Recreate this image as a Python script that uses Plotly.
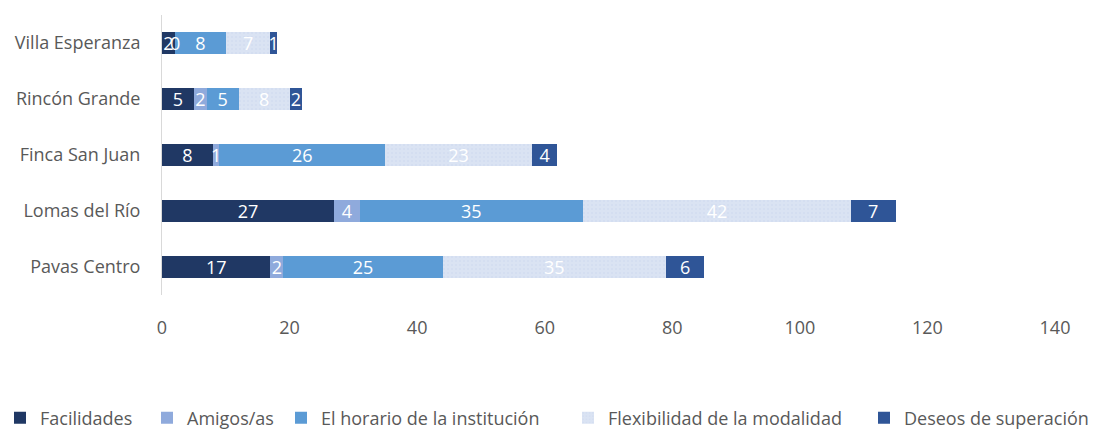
import plotly.graph_objects as go

categories = ["Villa Esperanza", "Rincón Grande", "Finca San Juan", "Lomas del Río", "Pavas Centro"]
series_names = ["Facilidades", "Amigos/as", "El horario de la institución",
                "Flexibilidad de la modalidad", "Deseos de superación"]
facilidades = [2, 5, 8, 27, 17]
amigos = [0, 2, 1, 4, 2]
horario = [8, 5, 26, 35, 25]
flexibilidad = [7, 8, 23, 42, 35]
deseos = [1, 2, 4, 7, 6]
x_ticks = [0, 20, 40, 60, 80, 100, 120, 140]

colors = ["#203864", "#8FAADC", "#5B9BD5", "#DAE3F3", "#2F5597"]
values = [facilidades, amigos, horario, flexibilidad, deseos]
legend_x_px = [-2, 147, 281, 568, 864]   # left edge of each legend entry (pixels)
FONT = "Open Sans"
FS = 18
W, H = 1096, 429

fig = go.Figure()
legend_layouts = {}
for k, (name, vals, col) in enumerate(zip(series_names, values, colors)):
    marker = dict(color=col, line=dict(width=0))
    if name.startswith("Flexibilidad"):
        marker["pattern"] = dict(shape=".", fgcolor="#C9D6EC", bgcolor=col, size=4, solidity=0.2)
    lg = "legend" if k == 0 else f"legend{k + 1}"
    fig.add_trace(go.Bar(
        y=categories, x=vals, name=name, orientation="h",
        marker=marker, legend=lg,
        text=[str(v) for v in vals], textposition="inside", textangle=0,
        insidetextanchor="middle",
        textfont=dict(color="white", size=FS, family=FONT),
    ))
    legend_layouts[lg] = dict(orientation="h", xref="container", x=max(legend_x_px[k], 0) / W,
                              xanchor="left", yref="container", y=1 - 418 / H, yanchor="middle",
                              font=dict(size=FS, color="#595959"), bgcolor="rgba(0,0,0,0)",
                              borderwidth=0)

# labels for zero-width segments (Plotly hides text of empty bars)
for i, cat in enumerate(categories):
    cum = 0
    for vals in values:
        if vals[i] == 0:
            fig.add_annotation(x=cum, y=cat, text=str(vals[i]), showarrow=False,
                               xanchor="center", font=dict(color="white", size=FS, family=FONT))
        cum += vals[i]

fig.update_layout(
    barmode="stack",
    bargap=0.6,
    width=W, height=H,
    margin=dict(l=162, r=41, t=15, b=134),
    paper_bgcolor="white", plot_bgcolor="white",
    font=dict(family=FONT, size=FS, color="#595959"),
    uniformtext=dict(mode="show", minsize=FS),
    showlegend=True,
    **legend_layouts,
)
fig.update_xaxes(range=[0, 140], tickvals=x_ticks, showgrid=False, zeroline=False,
                 showline=False, ticks="outside", ticklen=16, tickcolor="rgba(0,0,0,0)",
                 tickfont=dict(size=FS, color="#595959"), automargin=False)
fig.update_yaxes(categoryorder="array", categoryarray=categories[::-1],
                 showline=True, linecolor="#D9D9D9", linewidth=1, showgrid=False,
                 ticks="outside", ticklen=17, tickcolor="rgba(0,0,0,0)",
                 tickfont=dict(size=FS, color="#595959"), automargin=False)

fig.write_html("out.html", config={"displayModeBar": False},
               post_script="document.body.style.margin='0';")
